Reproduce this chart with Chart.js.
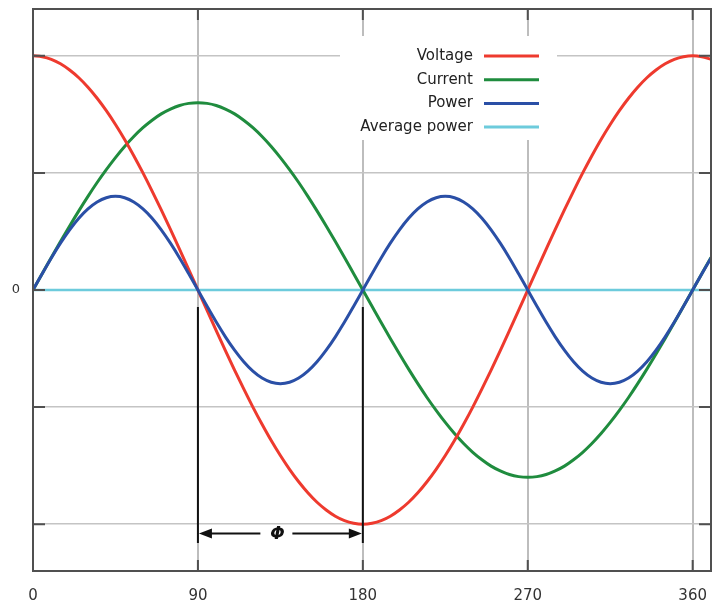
<!DOCTYPE html>
<html>
<head>
<meta charset="utf-8">
<script src="https://cdn.jsdelivr.net/npm/chart.js@4.4.1/dist/chart.umd.min.js"></script>
<style>
  html, body { margin: 0; padding: 0; background: #ffffff; }
  #wrap { width: 722px; height: 607px; }
</style>
</head>
<body>
<div id="wrap"><canvas id="c" width="722" height="607"></canvas></div>
<script>
// ---- data ----
const degrees = [0,5,10,15,20,25,30,35,40,45,50,55,60,65,70,75,80,85,90,
                 95,100,105,110,115,120,125,130,135,140,145,150,155,160,165,170,175,180,
                 185,190,195,200,205,210,215,220,225,230,235,240,245,250,255,260,265,270,
                 275,280,285,290,295,300,305,310,315,320,325,330,335,340,345,350,355,360,
                 365,370];
const voltage = [2.000,1.992,1.970,1.932,1.879,1.813,1.732,1.638,1.532,1.414,1.286,1.147,1.000,0.845,0.684,0.518,0.347,0.174,0.000,
                 -0.174,-0.347,-0.518,-0.684,-0.845,-1.000,-1.147,-1.286,-1.414,-1.532,-1.638,-1.732,-1.813,-1.879,-1.932,-1.970,-1.992,-2.000,
                 -1.992,-1.970,-1.932,-1.879,-1.813,-1.732,-1.638,-1.532,-1.414,-1.286,-1.147,-1.000,-0.845,-0.684,-0.518,-0.347,-0.174,0.000,
                 0.174,0.347,0.518,0.684,0.845,1.000,1.147,1.286,1.414,1.532,1.638,1.732,1.813,1.879,1.932,1.970,1.992,2.000,
                 1.992,1.970];
const current = [0.000,0.139,0.278,0.414,0.547,0.676,0.800,0.918,1.028,1.131,1.226,1.311,1.386,1.450,1.504,1.545,1.576,1.594,1.600,
                 1.594,1.576,1.545,1.504,1.450,1.386,1.311,1.226,1.131,1.028,0.918,0.800,0.676,0.547,0.414,0.278,0.139,0.000,
                 -0.139,-0.278,-0.414,-0.547,-0.676,-0.800,-0.918,-1.028,-1.131,-1.226,-1.311,-1.386,-1.450,-1.504,-1.545,-1.576,-1.594,-1.600,
                 -1.594,-1.576,-1.545,-1.504,-1.450,-1.386,-1.311,-1.226,-1.131,-1.028,-0.918,-0.800,-0.676,-0.547,-0.414,-0.278,-0.139,0.000,
                 0.139,0.278];
const power   = [0.000,0.139,0.274,0.400,0.514,0.613,0.693,0.752,0.788,0.800,0.788,0.752,0.693,0.613,0.514,0.400,0.274,0.139,0.000,
                 -0.139,-0.274,-0.400,-0.514,-0.613,-0.693,-0.752,-0.788,-0.800,-0.788,-0.752,-0.693,-0.613,-0.514,-0.400,-0.274,-0.139,0.000,
                 0.139,0.274,0.400,0.514,0.613,0.693,0.752,0.788,0.800,0.788,0.752,0.693,0.613,0.514,0.400,0.274,0.139,0.000,
                 -0.139,-0.274,-0.400,-0.514,-0.613,-0.693,-0.752,-0.788,-0.800,-0.788,-0.752,-0.693,-0.613,-0.514,-0.400,-0.274,-0.139,0.000,
                 0.139,0.274];
const avgDegrees = [0, 370];
const avgPower = [0, 0];
const seriesLabels = ['Voltage', 'Current', 'Power', 'Average power'];
const xTickValues = [0, 90, 180, 270, 360];
const yTickValues = [-2, -1, 0, 1, 2];
const yTickLabels = {'0': '0'};
const phaseSpan = [90, 180];      // the marked phase angle φ
const phaseLabel = 'Φ';

// ---- styling ----
const colors = ['#ee3a2e', '#1f8c3e', '#2a4fa6', '#6dcbdc'];
const FONT = 'DejaVu Sans';

function pts(xs, ys) { return xs.map((x, i) => ({ x: x, y: ys[i] })); }

const datasets = [
  { label: seriesLabels[0], data: pts(degrees, voltage), borderColor: colors[0], order: 1 },
  { label: seriesLabels[1], data: pts(degrees, current), borderColor: colors[1], order: 2 },
  { label: seriesLabels[2], data: pts(degrees, power),   borderColor: colors[2], order: 0 },
  { label: seriesLabels[3], data: pts(avgDegrees, avgPower), borderColor: colors[3], order: 3, borderWidth: 2.5 }
].map(d => Object.assign({ borderWidth: 3, pointRadius: 0, cubicInterpolationMode: 'monotone', fill: false }, d));

const LEGEND_BOX = { x0: 340, x1: 557, y0: 36, y1: 140 };

const decorPlugin = {
  id: 'decor',
  beforeDatasetsDraw(chart) {
    const ctx = chart.ctx;
    ctx.save();
    ctx.fillStyle = '#ffffff';
    ctx.fillRect(LEGEND_BOX.x0, LEGEND_BOX.y0, LEGEND_BOX.x1 - LEGEND_BOX.x0, LEGEND_BOX.y1 - LEGEND_BOX.y0);
    ctx.restore();
  },
  afterDatasetsDraw(chart) {
    const ctx = chart.ctx;
    const a = chart.chartArea;
    const xs = chart.scales.x, ys = chart.scales.y;
    ctx.save();
    // frame
    ctx.strokeStyle = '#505050';
    ctx.lineWidth = 2;
    ctx.strokeRect(a.left, a.top, a.right - a.left, a.bottom - a.top);
    // inward tick marks on all borders
    ctx.beginPath();
    xTickValues.forEach(v => {
      const px = xs.getPixelForValue(v);
      ctx.moveTo(px, a.top); ctx.lineTo(px, a.top + 11);
      ctx.moveTo(px, a.bottom); ctx.lineTo(px, a.bottom - 11);
    });
    yTickValues.forEach(v => {
      const py = ys.getPixelForValue(v);
      ctx.moveTo(a.left, py); ctx.lineTo(a.left + 12, py);
      ctx.moveTo(a.right, py); ctx.lineTo(a.right - 12, py);
    });
    ctx.stroke();

    // phase annotation
    const p0 = xs.getPixelForValue(phaseSpan[0]);
    const p1 = xs.getPixelForValue(phaseSpan[1]);
    const yTop = ys.getPixelForValue(-0.145);
    const yBot = ys.getPixelForValue(-2.16);
    const yArr = ys.getPixelForValue(-2.08);
    ctx.strokeStyle = '#111111';
    ctx.fillStyle = '#111111';
    ctx.lineWidth = 2;
    ctx.beginPath();
    ctx.moveTo(p0, yTop); ctx.lineTo(p0, yBot);
    ctx.moveTo(p1, yTop); ctx.lineTo(p1, yBot);
    ctx.stroke();
    const mid = (p0 + p1) / 2 - 3;
    ctx.beginPath();
    ctx.moveTo(p0 + 10, yArr); ctx.lineTo(mid - 17, yArr);
    ctx.moveTo(mid + 15, yArr); ctx.lineTo(p1 - 10, yArr);
    ctx.stroke();
    ctx.beginPath();
    ctx.moveTo(p0 + 1, yArr); ctx.lineTo(p0 + 14, yArr - 5); ctx.lineTo(p0 + 14, yArr + 5); ctx.closePath();
    ctx.moveTo(p1 - 1, yArr); ctx.lineTo(p1 - 14, yArr - 5); ctx.lineTo(p1 - 14, yArr + 5); ctx.closePath();
    ctx.fill();
    ctx.font = 'italic bold 17px "' + FONT + '"';
    ctx.textAlign = 'center';
    ctx.textBaseline = 'middle';
    ctx.fillText(phaseLabel, mid, yArr + 1);

    // legend
    ctx.font = '15px "' + FONT + '"';
    ctx.textAlign = 'right';
    ctx.fillStyle = '#222222';
    chart.data.datasets.forEach((d, i) => {
      const y = 56 + i * 23.7;
      ctx.fillText(d.label, 473, y);
      ctx.strokeStyle = d.borderColor;
      ctx.lineWidth = 3;
      ctx.beginPath();
      ctx.moveTo(484, y); ctx.lineTo(539, y);
      ctx.stroke();
    });
    ctx.restore();
  }
};

new Chart(document.getElementById('c'), {
  type: 'line',
  data: { datasets: datasets },
  options: {
    responsive: false,
    animation: false,
    devicePixelRatio: 1,
    layout: { padding: { left: 0, top: 9, right: 11, bottom: 0 } },
    plugins: { legend: { display: false }, tooltip: { enabled: false } },
    scales: {
      x: {
        type: 'linear',
        min: 0, max: 370,
        afterBuildTicks(s) { s.ticks = xTickValues.map(v => ({ value: v })); },
        afterFit(s) { s.height = 36; s.paddingLeft = 0; s.paddingRight = 0; },
        grid: { color: '#bdbdbd', lineWidth: 2, drawTicks: false },
        border: { display: false },
        ticks: {
          autoSkip: false, maxRotation: 0, padding: 16,
          color: '#333333',
          font: { family: FONT, size: 15 },
          callback: v => String(v)
        }
      },
      y: {
        min: -2.4, max: 2.4,
        afterBuildTicks(s) { s.ticks = yTickValues.map(v => ({ value: v })); },
        afterFit(s) { s.width = 33; s.paddingTop = 0; s.paddingBottom = 0; },
        grid: { color: '#c4c4c4', lineWidth: 1.5, drawTicks: false },
        border: { display: false },
        ticks: {
          padding: 13,
          color: '#333333',
          font: { family: FONT, size: 13 },
          callback: v => (yTickLabels[String(v)] !== undefined ? yTickLabels[String(v)] : '')
        }
      }
    }
  },
  plugins: [decorPlugin]
});
</script>
</body>
</html>
